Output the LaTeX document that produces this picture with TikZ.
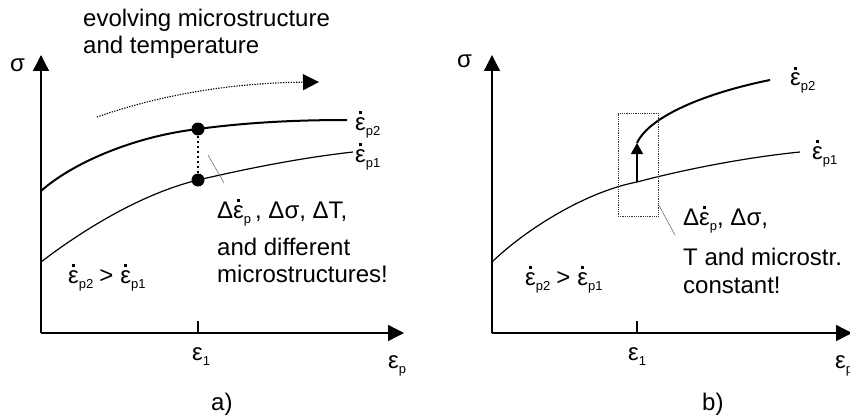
\documentclass[tikz,border=0pt]{standalone}
\usepackage{fontspec}
\setmainfont{Liberation Sans}
\usetikzlibrary{arrows.meta}
\newcommand\edot{\ooalign{ε\cr\hidewidth\raisebox{0.68em}{\rule{2.6pt}{2.6pt}}\hidewidth\cr}}
\newcommand\mysub[1]{\raisebox{-5pt}{\fontsize{13}{13}\selectfont #1}}
\newcommand\erate[1]{\edot\mysub{#1}}
\begin{document}
\begin{tikzpicture}[x=1pt,y=-1pt,
  font=\fontsize{24}{27}\selectfont,
  axis/.style={line width=1.3pt, -{Triangle[length=16pt,width=16pt]}},
  thickcurve/.style={line width=2pt},
  thincurve/.style={line width=1.2pt},
  lbl/.style={anchor=base west, inner sep=0pt},
  leader/.style={line width=0.6pt, black!55},
  bigdot/.style={circle, fill=black, inner sep=0pt, minimum size=13pt},
  tickmark/.style={line width=1.2pt}]
\useasboundingbox (0,0) rectangle (850,417);

% ================= panel a =================
\coordinate (aO) at (41,333);
\coordinate (aYt) at (41,55);
\coordinate (aXt) at (404,333);
\draw[axis] (aO) -- (aYt);
\draw[axis] (aO) -- (aXt);
\coordinate (aTk) at (198,333);
\coordinate (aTt) at (198,321);
\draw[tickmark] (aTk) -- (aTt);

\coordinate (aU0) at (41,191);
\coordinate (aU2) at (347,120);
\coordinate (aL0) at (41,262);
\coordinate (aL2) at (353,152);
\node[bigdot] (aDu) at (198,129) {};
\node[bigdot] (aDl) at (198,180) {};
\draw[thickcurve] (aU0) .. controls (70,165) and (130,137) .. (aDu.center)
   .. controls (250,122) and (300,120) .. (aU2);
\draw[thincurve] (aL0) .. controls (80,232) and (140,194) .. (aDl.center)
   .. controls (250,168) and (300,158) .. (aL2);
\draw[line width=2pt, dash pattern=on 2.5pt off 2.5pt] (aDu) -- (aDl);

\coordinate (aAs) at (97,117);
\coordinate (aAe) at (319,82);
\draw[line width=1.1pt, dash pattern=on 1.3pt off 1.3pt,
      -{Triangle[length=16pt,width=16pt]}]
  (aAs) .. controls (160,95) and (230,83) .. (aAe);

\coordinate (aLs) at (208,155);
\coordinate (aLe) at (224,183);
\draw[leader] (aLs) -- (aLe);

\node[lbl] (aEvo1) at (83,27) {evolving microstructure};
\node[lbl] (aEvo2) at (83,54) {and temperature};
\node[lbl] (aSig) at (10,72) {σ};
\node[lbl] (aR2) at (355,130) {\erate{p2}};
\node[lbl] (aR1) at (355,162) {\erate{p1}};
\node[lbl] (aT1) at (217,218) {Δ\erate{p}\,, Δσ, ΔT,};
\node[lbl] (aT2) at (217,255) {and different};
\node[lbl] (aT3) at (217,282) {microstructures!};
\node[lbl] (aCmp) at (68,283) {\erate{p2}\hspace{6pt}>\hspace{7pt}\erate{p1}};
\node[lbl] (aE1) at (192,360) {ε\mysub{1}};
\node[lbl] (aEp) at (388,368) {ε\mysub{p}};
\node[lbl] (aCap) at (211,410) {a)};

% ================= panel b =================
\coordinate (bO) at (492,333);
\coordinate (bYt) at (492,55);
\coordinate (bXt) at (852,333);
\draw[axis] (bO) -- (bYt);
\draw[axis] (bO) -- (bXt);
\coordinate (bTk) at (637,333);
\coordinate (bTt) at (637,321);
\draw[tickmark] (bTk) -- (bTt);

\coordinate (bL0) at (492,262);
\coordinate (bL1) at (637,182);
\coordinate (bL2) at (800,152);
\draw[thincurve] (bL0) .. controls (525,230) and (585,192) .. (bL1)
   .. controls (690,168) and (750,157) .. (bL2);
\coordinate (bU0) at (637,143);
\coordinate (bU2) at (770,80);
\draw[thickcurve] (bU0) .. controls (650,115) and (710,92) .. (bU2);
\draw[line width=1.3pt, -{Triangle[length=11pt,width=12pt]}] (bL1) -- (bU0);

\node[draw, densely dotted, line width=0.8pt, black!80, minimum width=40pt,
      minimum height=103pt, inner sep=0pt] (bBox) at (638,164.5) {};
\coordinate (bLe) at (675,235);
\draw[leader] (bBox.south east) ++(0,-12) -- (bLe);

\node[lbl] (bSig) at (457,68) {σ};
\node[lbl] (bR2) at (790,86) {\erate{p2}};
\node[lbl] (bR1) at (812,159) {\erate{p1}};
\node[lbl] (bT1) at (683,225) {Δ\erate{p}, Δσ,};
\node[lbl] (bT2) at (683,265) {T and microstr.};
\node[lbl] (bT3) at (683,293) {constant!};
\node[lbl] (bCmp) at (525,285) {\erate{p2}\hspace{6pt}>\hspace{7pt}\erate{p1}};
\node[lbl] (bE1) at (628,360) {ε\mysub{1}};
\node[lbl] (bEp) at (835,368) {ε\mysub{p}};
\node[lbl] (bCap) at (702,410) {b)};
\end{tikzpicture}
\end{document}
